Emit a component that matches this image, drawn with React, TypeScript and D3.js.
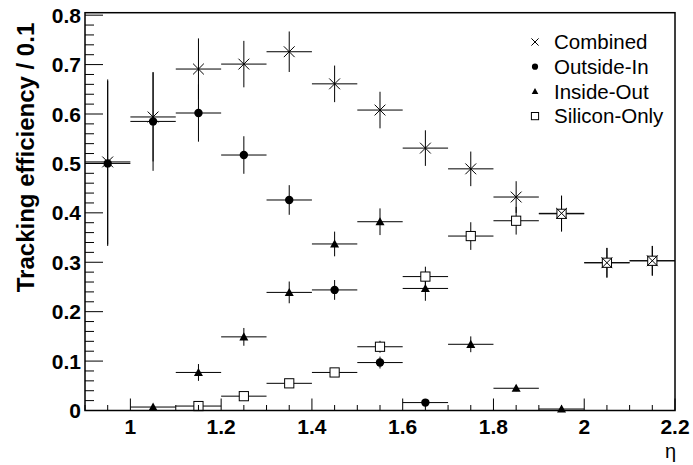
import React from "react";
import * as d3 from "d3";

// eta bin centres (bin width 0.1)
const etaBins = [0.95, 1.05, 1.15, 1.25, 1.35, 1.45, 1.55, 1.65, 1.75, 1.85, 1.95, 2.05, 2.15];

// efficiencies per bin (null = no point)
const combined = [0.503, 0.594, 0.691, 0.701, 0.726, 0.661, 0.608, 0.531, 0.489, 0.432, 0.399, 0.299, 0.303];
const combinedErr = [0.167, 0.09, 0.062, 0.047, 0.041, 0.037, 0.037, 0.036, 0.035, 0.032, 0.036, 0.03, 0.03];

const outsideIn = [0.5, 0.585, 0.602, 0.517, 0.426, 0.244, 0.097, 0.016, null, null, null, null, null];
const outsideInErr = [0.167, 0.1, 0.058, 0.038, 0.03, 0.02, 0.012, 0.007, null, null, null, null, null];

const insideOut = [null, 0.007, 0.077, 0.149, 0.239, 0.337, 0.382, 0.247, 0.134, 0.045, 0.003, null, null];
const insideOutErr = [null, 0.003, 0.017, 0.018, 0.022, 0.025, 0.027, 0.025, 0.016, 0.006, 0.003, null, null];

const siliconOnly = [null, null, 0.009, 0.029, 0.055, 0.077, 0.129, 0.271, 0.353, 0.384, 0.398, 0.299, 0.303];
const siliconOnlyErr = [null, null, 0.004, 0.006, 0.006, 0.008, 0.012, 0.02, 0.028, 0.028, 0.036, 0.03, 0.03];

const legendLabels = ["Combined", "Outside-In", "Inside-Out", "Silicon-Only"];
const xTickLabels = [1, 1.2, 1.4, 1.6, 1.8, 2, 2.2];
const yTickLabels = [0, 0.1, 0.2, 0.3, 0.4, 0.5, 0.6, 0.7, 0.8];

const halfBin = 0.05;
const font = "'Liberation Sans', Arial, sans-serif";

function Marker({ type, x, y, s }: { type: string; x: number; y: number; s: number }) {
  if (type === "cross") {
    return (
      <g stroke="black" strokeWidth={1}>
        <line x1={x - s} y1={y - s} x2={x + s} y2={y + s} />
        <line x1={x - s} y1={y + s} x2={x + s} y2={y - s} />
      </g>
    );
  }
  if (type === "dot") return <circle cx={x} cy={y} r={s} fill="black" />;
  if (type === "tri") {
    return (
      <path d={`M${x},${y - s}L${x + s},${y + s * 0.8}L${x - s},${y + s * 0.8}Z`} fill="black" />
    );
  }
  return <rect x={x - s} y={y - s} width={2 * s} height={2 * s} fill="white" stroke="black" strokeWidth={1} />;
}

function App() {
  const width = 693;
  const height = 465;
  const left = 85;
  const right = 675;
  const top = 12.7;
  const bottom = 410.5;

  const x = d3.scaleLinear().domain([0.9, 2.2]).range([left, right]);
  const y = d3.scaleLinear().domain([0, 0.805]).range([bottom, top]);

  const series = [
    { vals: siliconOnly, errs: siliconOnlyErr, type: "square", s: 4.6 },
    { vals: combined, errs: combinedErr, type: "cross", s: 5.4 },
    { vals: outsideIn, errs: outsideInErr, type: "dot", s: 4.2 },
    { vals: insideOut, errs: insideOutErr, type: "tri", s: 4.5 },
  ];

  // x ticks: long every 0.2, short every 0.05
  const xMinor = d3.range(0, 27).map((i) => 0.9 + i * 0.05);
  const yMinor = d3.range(0, 41).map((i) => i * 0.02);

  return (
    <svg width={width} height={height} style={{ position: "absolute", left: 0, top: 0 }}>
      <rect width={width} height={height} fill="white" />

      {/* error bars */}
      {series.map((sr, si) => (
        <g key={"e" + si} stroke="black" strokeWidth={1}>
          {etaBins.map((eta, i) => {
            const v = sr.vals[i];
            const e = sr.errs[i];
            if (v == null || e == null) return null;
            return (
              <g key={i}>
                <line x1={x(eta - halfBin)} x2={x(eta + halfBin)} y1={y(v)} y2={y(v)} />
                <line x1={x(eta)} x2={x(eta)} y1={y(v - e)} y2={y(v + e)} />
              </g>
            );
          })}
        </g>
      ))}

      {/* markers */}
      {series.map((sr, si) => (
        <g key={"m" + si}>
          {etaBins.map((eta, i) => {
            const v = sr.vals[i];
            if (v == null) return null;
            return <Marker key={i} type={sr.type} x={x(eta)} y={y(v)} s={sr.s} />;
          })}
        </g>
      ))}

      {/* frame */}
      <rect x={left} y={top} width={right - left} height={bottom - top} fill="none" stroke="black" strokeWidth={1.5} />

      {/* x axis ticks */}
      <g stroke="black" strokeWidth={1}>
        {xMinor.map((t, i) => (
          <line key={i} x1={x(t)} x2={x(t)} y1={bottom} y2={bottom - (i % 4 === 2 ? 12 : 5.5)} />
        ))}
      </g>
      {xTickLabels.map((t) => (
        <text key={t} x={x(t)} y={433.5} textAnchor="middle" fontFamily={font} fontWeight="bold" fontSize={21}>
          {t}
        </text>
      ))}
      <text x={676} y={458} textAnchor="end" fontFamily={font} fontSize={20}>
        η
      </text>

      {/* y axis ticks */}
      <g stroke="black" strokeWidth={1}>
        {yMinor.map((t, i) => (
          <line key={i} x1={left} x2={left + (i % 5 === 0 ? 18 : 9)} y1={y(t)} y2={y(t)} />
        ))}
      </g>
      {yTickLabels.map((t) => (
        <text key={t} x={81} y={y(t)} dy="0.36em" textAnchor="end" fontFamily={font} fontWeight="bold" fontSize={21}>
          {t}
        </text>
      ))}
      <text
        transform={`translate(34,157.5) rotate(-90)`}
        textAnchor="middle"
        fontFamily={font}
        fontWeight="bold"
        fontSize={24}
      >
        Tracking efficiency / 0.1
      </text>

      {/* legend */}
      {legendLabels.map((lab, i) => {
        const ly = 42 + i * 24.7;
        const types = ["cross", "dot", "tri", "square"];
        const sizes = [3.6, 3.1, 3.3, 3.6];
        return (
          <g key={lab}>
            <Marker type={types[i]} x={535} y={ly} s={sizes[i]} />
            <text x={554} y={ly} dy="0.36em" fontFamily={font} fontSize={20.5}>
              {lab}
            </text>
          </g>
        );
      })}
    </svg>
  );
}

export default App;
